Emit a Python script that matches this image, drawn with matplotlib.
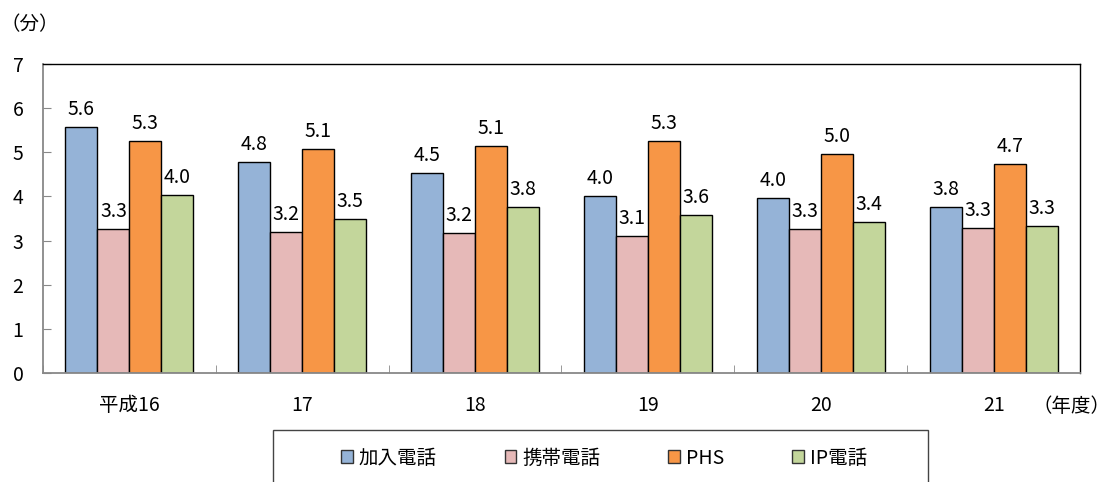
import numpy as np
import matplotlib.pyplot as plt
from matplotlib.patches import Rectangle

plt.rcParams['font.family'] = ['Noto Sans CJK JP', 'DejaVu Sans']

# 年度
years = ['平成16', '17', '18', '19', '20', '21']
series = ['加入電話', '携帯電話', 'PHS', 'IP電話']
# 平均通話時間（分）
kanyu = [5.58, 4.78, 4.53, 4.00, 3.96, 3.76]
keitai = [3.26, 3.19, 3.17, 3.11, 3.27, 3.29]
phs = [5.26, 5.08, 5.14, 5.26, 4.96, 4.74]
ip = [4.04, 3.49, 3.76, 3.58, 3.42, 3.33]
colors = ['#95B3D7', '#E6B9B8', '#F79646', '#C3D69B']

W, H = 1109, 482
fig = plt.figure(figsize=(W / 100, H / 100), dpi=100)
ax = fig.add_axes([43 / W, 1 - 373 / H, (1080 - 43) / W, (373 - 64) / H])

x = np.arange(len(years))
bw = 0.185
fs = 14
for k, vals in enumerate([kanyu, keitai, phs, ip]):
    pos = x + (k - 1.5) * bw
    bars = ax.bar(pos, vals, bw, color=colors[k], edgecolor='black', linewidth=1,
                  label=series[k], zorder=2)
    for b, v in zip(bars, vals):
        ax.annotate(f'{v:.1f}', (b.get_x() + b.get_width() / 2, v),
                    xytext=(0, 5), textcoords='offset points',
                    ha='center', va='bottom', fontsize=fs, zorder=3)

ax.set_xlim(-0.5, len(years) - 0.5)
ax.set_ylim(0, 7)
ax.set_yticks(range(8))
ax.set_xticks(x)
ax.set_xticklabels(years)
ax.set_xticks(np.arange(-0.5, len(years)), minor=True)
ax.tick_params(axis='x', which='major', length=0, pad=16, labelsize=fs)
ax.tick_params(axis='x', which='minor', direction='in', length=6, color='#888888')
ax.tick_params(axis='y', direction='in', length=6, color='#888888', pad=14, labelsize=fs)

for s in ['left', 'bottom']:
    ax.spines[s].set_color('#888888')
    ax.spines[s].set_linewidth(1.3)
for s in ['top', 'right']:
    ax.spines[s].set_color('black')
    ax.spines[s].set_linewidth(1)

fig.text(30 / W, 1 - 25 / H, '（分）', ha='center', va='center', fontsize=fs)
fig.text(1072 / W, 1 - 406 / H, '（年度）', ha='center', va='center', fontsize=fs)

fig.patches.append(Rectangle((273 / W, -0.05), (928 - 273) / W, 0.05 + (482 - 430) / H,
                             transform=fig.transFigure, facecolor='white',
                             edgecolor='#444444', linewidth=1))
handles, labels = ax.get_legend_handles_labels()
leg = fig.legend(handles, labels, loc='center', bbox_to_anchor=(604 / W, 1 - 458 / H),
                 ncol=4, frameon=False, fontsize=fs, handlelength=0.6, handleheight=0.6,
                 handletextpad=0.3, columnspacing=3.5)
for h in leg.legend_handles:
    h.set_edgecolor('#333333')

fig.savefig('out.png', dpi=100)
